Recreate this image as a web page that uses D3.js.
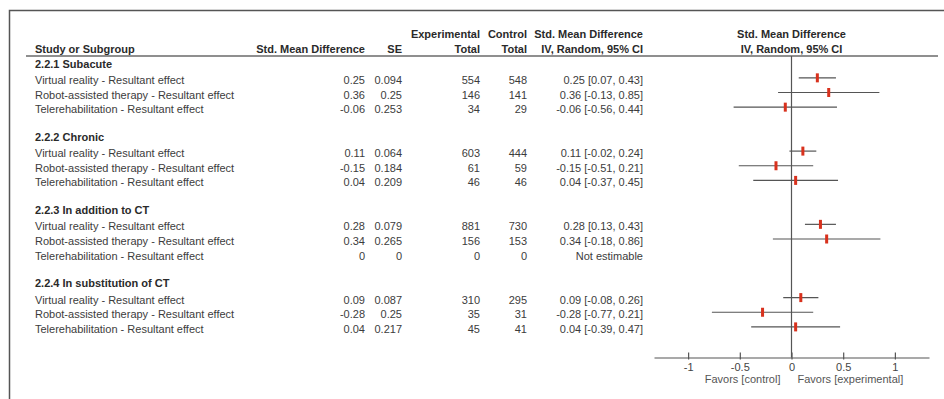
<!DOCTYPE html>
<html>
<head>
<meta charset="utf-8">
<script src="https://cdn.jsdelivr.net/npm/d3@7"></script>
<style>
  html, body { margin: 0; padding: 0; background: #fff; }
  svg { display: block; font-family: "Liberation Sans", Arial, sans-serif; }
</style>
</head>
<body>
<div id="chart"></div>
<script>
// Subgroups and the interventions compared within each one
const subgroups = ["2.2.1 Subacute", "2.2.2 Chronic", "2.2.3 In addition to CT", "2.2.4 In substitution of CT"];
const interventions = [
  "Virtual reality - Resultant effect",
  "Robot-assisted therapy - Resultant effect",
  "Telerehabilitation - Resultant effect"
];
// Per subgroup, one value per intervention
const smd = [[0.25, 0.36, -0.06], [0.11, -0.15, 0.04], [0.28, 0.34, 0], [0.09, -0.28, 0.04]];
const se = [[0.094, 0.25, 0.253], [0.064, 0.184, 0.209], [0.079, 0.265, 0], [0.087, 0.25, 0.217]];
const expTotal = [[554, 146, 34], [603, 61, 46], [881, 156, 0], [310, 35, 45]];
const ctrlTotal = [[548, 141, 29], [444, 59, 46], [730, 153, 0], [295, 31, 41]];
const ciLow = [[0.07, -0.13, -0.56], [-0.02, -0.51, -0.37], [0.13, -0.18, null], [-0.08, -0.77, -0.39]];
const ciHigh = [[0.43, 0.85, 0.44], [0.24, 0.21, 0.45], [0.43, 0.86, null], [0.26, 0.21, 0.47]];
const axisTicks = [-1, -0.5, 0, 0.5, 1];
const favorLabels = ["Favors [control]", "Favors [experimental]"];

const W = 944, H = 399;
const svg = d3.select("#chart").append("svg").attr("width", W).attr("height", H);

const textCol = "#3c3c3c", headCol = "#2a2a2a", lineCol = "#555";

// outer frame (left and top edges)
svg.append("path").attr("d", `M9.5,${H} V10.5 H${W}`)
  .attr("fill", "none").attr("stroke", "#555").attr("stroke-width", 1.5);

// rows: heading, three studies, blank — per subgroup
const rows = [];
subgroups.forEach((g, gi) => {
  rows.push({ type: "head", label: g, slot: gi * 5 });
  interventions.forEach((name, i) => {
    rows.push({
      type: "study", label: name, slot: gi * 5 + 1 + i,
      smd: smd[gi][i], se: se[gi][i], exp: expTotal[gi][i], ctrl: ctrlTotal[gi][i],
      lo: ciLow[gi][i], hi: ciHigh[gi][i]
    });
  });
});
const y = d3.scaleLinear().domain([0, 1]).range([65.2, 79.85]);
const x = d3.scaleLinear().domain([-1.33, 1.33]).range([654, 929]);

// column headers
const hdr = svg.append("g").attr("font-size", 11).attr("font-weight", "bold").attr("fill", headCol);
const h1 = 38.3, h2 = 53.3;
hdr.append("text").attr("x", 35).attr("y", h2).text("Study or Subgroup");
hdr.append("text").attr("x", 365).attr("y", h2).attr("text-anchor", "end").text("Std. Mean Difference");
hdr.append("text").attr("x", 402).attr("y", h2).attr("text-anchor", "end").text("SE");
hdr.append("text").attr("x", 480).attr("y", h1).attr("text-anchor", "end").text("Experimental");
hdr.append("text").attr("x", 480).attr("y", h2).attr("text-anchor", "end").text("Total");
hdr.append("text").attr("x", 527).attr("y", h1).attr("text-anchor", "end").text("Control");
hdr.append("text").attr("x", 527).attr("y", h2).attr("text-anchor", "end").text("Total");
hdr.append("text").attr("x", 643).attr("y", h1).attr("text-anchor", "end").text("Std. Mean Difference");
hdr.append("text").attr("x", 643).attr("y", h2).attr("text-anchor", "end").text("IV, Random, 95% CI");
hdr.append("text").attr("x", x(0)).attr("y", h1).attr("text-anchor", "middle").text("Std. Mean Difference");
hdr.append("text").attr("x", x(0)).attr("y", h2).attr("text-anchor", "middle").text("IV, Random, 95% CI");

svg.append("line").attr("x1", 26).attr("x2", 938).attr("y1", 56).attr("y2", 56)
  .attr("stroke", "#6a6a6a").attr("stroke-width", 1.5);

// table body
const body = svg.append("g").attr("font-size", 11).attr("fill", textCol);
rows.forEach(r => {
  const cy = y(r.slot);
  if (r.type === "head") {
    body.append("text").attr("x", 35).attr("y", cy - 1.7 + 4).attr("font-weight", "bold")
      .attr("fill", headCol).text(r.label);
    return;
  }
  const by = cy + 4;
  const est = r.se !== 0;
  body.append("text").attr("x", 35).attr("y", by).text(r.label);
  body.append("text").attr("x", 365).attr("y", by).attr("text-anchor", "end")
    .text(est ? r.smd.toFixed(2) : "0");
  body.append("text").attr("x", 402).attr("y", by).attr("text-anchor", "end").text(String(r.se));
  body.append("text").attr("x", 480).attr("y", by).attr("text-anchor", "end").text(r.exp);
  body.append("text").attr("x", 527).attr("y", by).attr("text-anchor", "end").text(r.ctrl);
  body.append("text").attr("x", 643).attr("y", by).attr("text-anchor", "end")
    .text(est ? `${r.smd.toFixed(2)} [${r.lo.toFixed(2)}, ${r.hi.toFixed(2)}]` : "Not estimable");
});

// forest plot
const axisY = 357.5;
svg.append("line").attr("x1", x(0)).attr("x2", x(0)).attr("y1", 56).attr("y2", axisY)
  .attr("stroke", lineCol).attr("stroke-width", 1.2);

const plot = svg.append("g");
rows.filter(r => r.type === "study" && r.se !== 0).forEach(r => {
  const ly = y(r.slot) - 2;
  plot.append("line").attr("x1", x(r.lo)).attr("x2", x(r.hi)).attr("y1", ly).attr("y2", ly)
    .attr("stroke", lineCol).attr("stroke-width", 1.2);
  plot.append("rect").attr("x", x(r.smd) - 1.5).attr("y", ly - 4.5).attr("width", 3).attr("height", 9)
    .attr("fill", "#d8311d");
});

// x axis
const ax = svg.append("g").attr("transform", `translate(0,${axisY})`)
  .call(d3.axisBottom(x).tickValues(axisTicks).tickFormat(d => String(d)).tickSizeOuter(0));
ax.select(".domain").attr("stroke", lineCol).attr("stroke-width", 1.2);
ax.selectAll(".tick line").attr("y1", -5).attr("y2", 2).attr("stroke", lineCol).attr("stroke-width", 1.2);
ax.selectAll(".tick text").attr("y", 13).attr("dy", 0)
  .attr("font-family", "Liberation Sans, Arial, sans-serif").attr("font-size", 11).attr("fill", "#444");

svg.append("text").attr("x", x(0) - 11).attr("y", 382.7).attr("text-anchor", "end")
  .attr("font-size", 11).attr("fill", "#555").text(favorLabels[0]);
svg.append("text").attr("x", x(0) + 6).attr("y", 382.7)
  .attr("font-size", 11).attr("fill", "#555").text(favorLabels[1]);
</script>
</body>
</html>
